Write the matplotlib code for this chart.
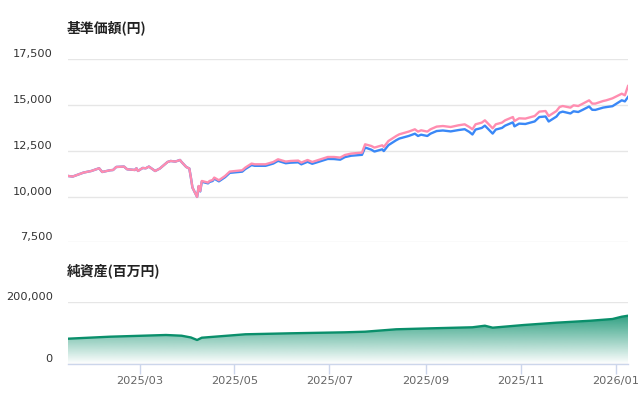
import numpy as np
import pandas as pd
import matplotlib
matplotlib.use('Agg')
import matplotlib.pyplot as plt
import matplotlib.dates as mdates
from matplotlib.ticker import FuncFormatter

# --- data ---
nav_dates = [
    '2025-01-14', '2025-01-17', '2025-01-24', '2025-01-29', '2025-02-03', '2025-02-05',
    '2025-02-10', '2025-02-12', '2025-02-14', '2025-02-19', '2025-02-21', '2025-02-26',
    '2025-02-27', '2025-02-28', '2025-03-03', '2025-03-05', '2025-03-07', '2025-03-11',
    '2025-03-14', '2025-03-19', '2025-03-21', '2025-03-24', '2025-03-27', '2025-03-28',
    '2025-03-31', '2025-04-02', '2025-04-03', '2025-04-04', '2025-04-07', '2025-04-08',
    '2025-04-09', '2025-04-10', '2025-04-14', '2025-04-15', '2025-04-17', '2025-04-18',
    '2025-04-21', '2025-04-25', '2025-04-28', '2025-05-06', '2025-05-08', '2025-05-12',
    '2025-05-14', '2025-05-21', '2025-05-26', '2025-05-29', '2025-06-03', '2025-06-06',
    '2025-06-11', '2025-06-13', '2025-06-17', '2025-06-20', '2025-06-24', '2025-06-30',
    '2025-07-04', '2025-07-08', '2025-07-11', '2025-07-15', '2025-07-22', '2025-07-24',
    '2025-07-28', '2025-07-30', '2025-08-04', '2025-08-05', '2025-08-08', '2025-08-13',
    '2025-08-15', '2025-08-21', '2025-08-25', '2025-08-27', '2025-08-29', '2025-09-02',
    '2025-09-04', '2025-09-08', '2025-09-12', '2025-09-17', '2025-09-22', '2025-09-26',
    '2025-09-29', '2025-10-01', '2025-10-03', '2025-10-07', '2025-10-09', '2025-10-14',
    '2025-10-16', '2025-10-20', '2025-10-22', '2025-10-27', '2025-10-28', '2025-10-31',
    '2025-11-04', '2025-11-10', '2025-11-13', '2025-11-17', '2025-11-19', '2025-11-24',
    '2025-11-26', '2025-11-28', '2025-12-03', '2025-12-05', '2025-12-08', '2025-12-11',
    '2025-12-15', '2025-12-17', '2025-12-19', '2025-12-24', '2025-12-26', '2025-12-30',
    '2026-01-05', '2026-01-07', '2026-01-09',
]
# pink: reinvested NAV
nav_reinvested = [
    11125, 11092, 11310, 11398, 11545, 11343,
    11436, 11452, 11616, 11638, 11491, 11452,
    11545, 11398, 11562, 11545, 11638, 11398,
    11529, 11889, 11944, 11911, 11998, 11889,
    11616, 11529, 11037, 10491, 9978, 10579,
    10306, 10852, 10764, 10852, 10906, 11037,
    10890, 11125, 11365, 11436, 11583, 11802,
    11764, 11764, 11889, 12037, 11911, 11944,
    11966, 11856, 11998, 11889, 11998, 12162,
    12162, 12129, 12271, 12348, 12402, 12856,
    12763, 12675, 12801, 12708, 13036, 13309,
    13402, 13549, 13675, 13549, 13620, 13549,
    13675, 13822, 13855, 13800, 13893, 13947,
    13800, 13675, 13948, 14040, 14166, 13729,
    13948, 14040, 14166, 14346, 14128, 14275,
    14259, 14401, 14641, 14674, 14401, 14674,
    14892, 14947, 14859, 14985, 14947, 15078,
    15258, 15078, 15078, 15220, 15258, 15367,
    15620, 15531, 16039,
]
# blue: NAV
nav_base = [
    11125, 11092, 11310, 11398, 11545, 11343,
    11436, 11452, 11616, 11638, 11491, 11452,
    11545, 11398, 11562, 11545, 11638, 11398,
    11529, 11889, 11944, 11911, 11998, 11889,
    11616, 11529, 11037, 10491, 9978, 10560,
    10280, 10810, 10720, 10800, 10850, 10980,
    10830, 11060, 11295, 11360, 11505, 11720,
    11680, 11680, 11805, 11950, 11820, 11850,
    11870, 11760, 11900, 11790, 11895, 12055,
    12050, 12015, 12155, 12230, 12280, 12680,
    12560, 12460, 12580, 12485, 12810, 13080,
    13170, 13310, 13435, 13310, 13380, 13310,
    13435, 13580, 13610, 13560, 13633, 13680,
    13530, 13390, 13660, 13750, 13875, 13440,
    13660, 13750, 13875, 14055, 13835, 13985,
    13965, 14105, 14345, 14375, 14100, 14370,
    14585, 14640, 14540, 14660, 14620, 14745,
    14920, 14740, 14735, 14860, 14888, 14937,
    15260, 15200, 15440,
]

asset_dates = [
    '2025-01-14', '2025-02-10', '2025-03-18', '2025-03-28', '2025-04-03', '2025-04-07',
    '2025-04-10', '2025-05-08', '2025-06-06', '2025-07-11', '2025-07-24', '2025-08-13',
    '2025-09-05', '2025-10-01', '2025-10-09', '2025-10-14', '2025-11-03', '2025-11-24',
    '2025-12-16', '2025-12-30', '2026-01-05', '2026-01-09',
]
net_assets = [
    82000, 88500, 94000, 91700, 86000, 77800,
    85200, 96300, 99500, 102700, 104700, 112500,
    115700, 119000, 124100, 117700, 126400, 133900,
    140300, 145800, 153300, 156500,
]

nav_ticks = [7500, 10000, 12500, 15000, 17500]
asset_ticks = [0, 200000]
month_ticks = ['2025-03-01', '2025-05-01', '2025-07-01', '2025-09-01', '2025-11-01', '2026-01-01']

# --- styling ---
W, H = 643, 396
PINK = '#ff8db0'
BLUE = '#3a88f7'
GREEN = '#0a8f6b'
GRID = '#e6e6e6'
AXIS = '#ccd6eb'

plt.rcParams['font.family'] = ['DejaVu Sans', 'Noto Sans CJK JP']
plt.rcParams['font.size'] = 8.2

fig = plt.figure(figsize=(W / 100, H / 100), dpi=100)
fig.patch.set_facecolor('white')

def box(x0, y0, x1, y1):
    return [x0 / W, 1 - y1 / H, (x1 - x0) / W, (y1 - y0) / H]

ax1 = fig.add_axes(box(68, 59.3, 628, 242.3))
ax2 = fig.add_axes(box(68, 302.3, 628, 364))

x_nav = mdates.date2num(pd.to_datetime(nav_dates))
x_ast = mdates.date2num(pd.to_datetime(asset_dates))
xmin, xmax = x_nav[0], x_nav[-1]

comma = FuncFormatter(lambda v, p: f'{int(v):,}')

# top: NAV lines
ax1.plot(x_nav, nav_base, color=BLUE, lw=1.7, zorder=3, solid_joinstyle='round')
ax1.plot(x_nav, nav_reinvested, color=PINK, lw=1.7, zorder=4, solid_joinstyle='round')
ax1.set_xlim(xmin, xmax)
ax1.set_ylim(7500, 17500)
ax1.set_yticks(nav_ticks)
ax1.yaxis.set_major_formatter(comma)
ax1.set_xticks([])
ax1.grid(axis='y', color=GRID, lw=1)
ax1.set_axisbelow(True)

# bottom: net assets with gradient fill
ax2.plot(x_ast, net_assets, color=GREEN, lw=1.7, zorder=4)
poly = ax2.fill_between(x_ast, net_assets, 0, facecolor='none', edgecolor='none')
top = max(net_assets)
grad = np.zeros((256, 1, 4))
grad[:, 0, 0] = 10 / 255
grad[:, 0, 1] = 143 / 255
grad[:, 0, 2] = 107 / 255
grad[:, 0, 3] = np.linspace(0.85, 0.0, 256)
im = ax2.imshow(grad, extent=[xmin, xmax, 0, top], aspect='auto', origin='upper', zorder=2)
im.set_clip_path(poly.get_paths()[0], transform=ax2.transData)
ax2.set_xlim(xmin, xmax)
ax2.set_ylim(0, 200000)
ax2.set_yticks(asset_ticks)
ax2.yaxis.set_major_formatter(comma)
ax2.grid(axis='y', color=GRID, lw=1)
ax2.set_axisbelow(True)

ax2.set_xticks(mdates.date2num(pd.to_datetime(month_ticks)))
ax2.xaxis.set_major_formatter(mdates.DateFormatter('%Y/%m'))

for ax in (ax1, ax2):
    for s in ax.spines.values():
        s.set_visible(False)
    ax.tick_params(axis='y', length=0, pad=11, labelcolor='#333333', labelsize=8.2)
    for lbl in ax.get_yticklabels():
        lbl.set_va('bottom')

ax2.spines['bottom'].set_visible(True)
ax2.spines['bottom'].set_color(AXIS)
ax2.spines['bottom'].set_linewidth(1)
ax2.spines['bottom'].set_zorder(5)
ax2.tick_params(axis='x', length=7, width=1, color=AXIS, pad=1.5,
                labelcolor='#666666', labelsize=8.2)

fig.text(67 / W, 1 - 28 / H, '基準価額(円)', family='Noto Sans CJK JP',
         weight='bold', fontsize=10, color='#222222', va='center', ha='left')
fig.text(67 / W, 1 - 271 / H, '純資産(百万円)', family='Noto Sans CJK JP',
         weight='bold', fontsize=10, color='#222222', va='center', ha='left')

fig.savefig('out.png', dpi=100, facecolor='white')
